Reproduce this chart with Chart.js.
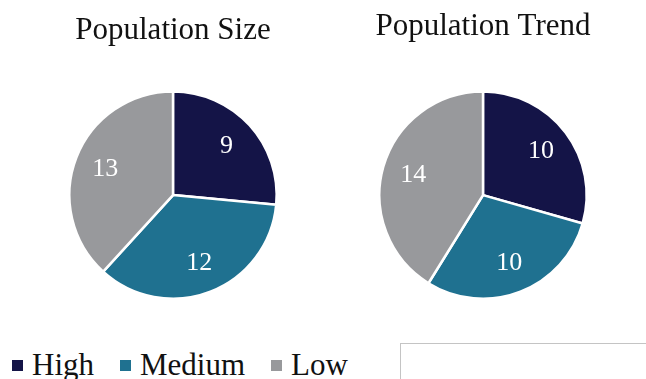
<!DOCTYPE html>
<html>
<head>
<meta charset="utf-8">
<script src="https://cdn.jsdelivr.net/npm/chart.js@4.4.1/dist/chart.umd.min.js"></script>
<style>
  html, body { margin: 0; padding: 0; background: #fff; }
  body { width: 646px; height: 379px; position: relative; overflow: hidden; }
  .pie { position: absolute; top: 0; width: 220px; height: 300px; }
  #legend { position: absolute; left: 12px; top: 347px; display: flex; align-items: center;
            font-family: 'Liberation Serif', 'DejaVu Serif', serif; font-size: 31px; line-height: 36px; color: #111; white-space: nowrap; }
  #legend span.item { display: flex; align-items: center; margin-right: 26px; }
  #legend i { display: inline-block; width: 11px; height: 11px; margin-right: 9px; margin-top: 0; }
  #box { position: absolute; left: 400px; top: 343px; width: 260px; height: 60px; border: 1px solid #c4c4c4; }
</style>
</head>
<body>
<div class="pie" style="left:63px"><canvas id="sizeChart"></canvas></div>
<div class="pie" style="left:373px"><canvas id="trendChart"></canvas></div>
<div id="legend"></div>
<div id="box"></div>
<script>
const categories = ['High', 'Medium', 'Low'];
const sizeValues = [9, 12, 13];
const trendValues = [10, 10, 14];
const colors = ['#141447', '#1f7190', '#98999c'];

// white value labels placed inside each slice
const sliceLabels = {
  id: 'sliceLabels',
  afterDatasetsDraw(chart) {
    const ctx = chart.ctx;
    const meta = chart.getDatasetMeta(0);
    ctx.save();
    ctx.fillStyle = '#ffffff';
    ctx.font = '26px "Liberation Serif"';
    ctx.textAlign = 'center';
    ctx.textBaseline = 'middle';
    meta.data.forEach((arc, i) => {
      const p = arc.getProps(['x', 'y', 'startAngle', 'endAngle', 'outerRadius']);
      const mid = (p.startAngle + p.endAngle) / 2;
      const r = p.outerRadius * 0.7;
      ctx.fillText(chart.data.datasets[0].data[i], p.x + Math.cos(mid) * r, p.y + Math.sin(mid) * r);
    });
    ctx.restore();
  }
};

function initPie(id, title, values, padTop, padBottom) {
  new Chart(document.getElementById(id), {
    type: 'pie',
    data: {
      labels: categories,
      datasets: [{
        data: values,
        backgroundColor: colors,
        borderColor: '#ffffff',
        borderWidth: 2.5
      }]
    },
    options: {
      responsive: true,
      maintainAspectRatio: false,
      animation: false,
      layout: { padding: 0 },
      plugins: {
        legend: { display: false },
        tooltip: { enabled: false },
        title: {
          display: true,
          text: title,
          color: '#111111',
          font: { family: 'Liberation Serif', size: 31, weight: 'normal' },
          padding: { top: padTop, bottom: padBottom }
        }
      }
    },
    plugins: [sliceLabels]
  });
}

initPie('sizeChart', 'Population Size', sizeValues, 12, 41);
initPie('trendChart', 'Population Trend', trendValues, 8, 45);

const legend = document.getElementById('legend');
categories.forEach((c, i) => {
  const item = document.createElement('span');
  item.className = 'item';
  item.innerHTML = '<i style="background:' + colors[i] + '"></i>' + c;
  legend.appendChild(item);
});
</script>
</body>
</html>
